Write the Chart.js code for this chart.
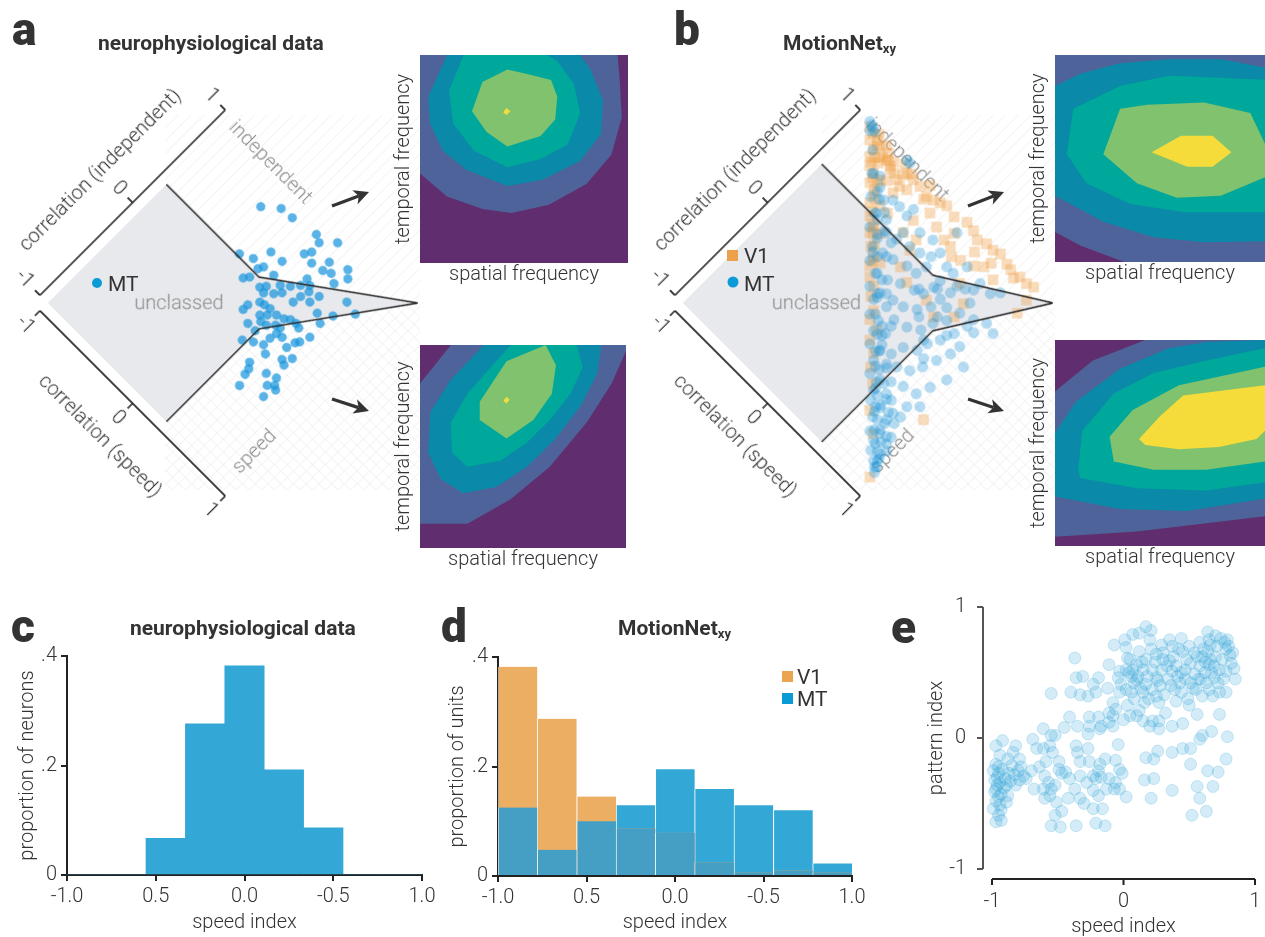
<!DOCTYPE html>
<html><head><meta charset="utf-8">
<script src="https://cdn.jsdelivr.net/npm/chart.js@4.4.1/dist/chart.umd.min.js"></script>
<style>
html,body{margin:0;padding:0;background:#fff;}
#page{position:relative;width:1265px;height:937px;overflow:hidden;font-family:Roboto,'Liberation Sans',sans-serif;}
canvas{position:absolute;}
svg{position:absolute;left:0;top:0;}
</style></head><body><div id="page">
<svg id="bg" width="1265" height="937">
<defs>
<pattern id="h1" width="9" height="9" patternUnits="userSpaceOnUse" patternTransform="rotate(45)"><line x1="0" y1="0" x2="0" y2="9" stroke="#ededed" stroke-width="1.2"/></pattern>
<pattern id="h2" width="9" height="9" patternUnits="userSpaceOnUse" patternTransform="rotate(-45)"><line x1="0" y1="0" x2="0" y2="9" stroke="#ededed" stroke-width="1.2"/></pattern>
</defs>
<rect x="165" y="115" width="255" height="375" fill="url(#h1)"/>
<rect x="165" y="303" width="255" height="187" fill="url(#h2)"/>
<rect x="822" y="115" width="233" height="375" fill="url(#h1)"/>
<rect x="822" y="303" width="233" height="187" fill="url(#h2)"/>
</svg>
<canvas id="cA" width="480" height="480" style="left:-7px;top:63px;transform:rotate(-45deg)"></canvas>
<canvas id="cB" width="480" height="480" style="left:628px;top:63px;transform:rotate(-45deg)"></canvas>
<canvas id="kA1" width="240" height="236" style="left:388px;top:55px"></canvas>
<canvas id="kA2" width="238" height="231" style="left:388px;top:345px"></canvas>
<canvas id="kB1" width="242" height="235" style="left:1023px;top:55px"></canvas>
<canvas id="kB2" width="242" height="234" style="left:1023px;top:340px"></canvas>
<canvas id="cC" width="440" height="337" style="left:0px;top:600px"></canvas>
<canvas id="cD" width="440" height="337" style="left:430px;top:600px"></canvas>
<canvas id="cE" width="385" height="349" style="left:880px;top:590px"></canvas>
<svg id="fg" width="1265" height="937" font-family="Roboto, 'Liberation Sans', sans-serif">
<g fill="#333" font-weight="900" font-size="46">
<text x="12" y="45">a</text><text x="674" y="45">b</text>
<text x="11" y="642">c</text><text x="441" y="642">d</text><text x="891" y="643">e</text>
</g>
<g fill="#333" font-weight="700" font-size="21">
<text x="98" y="50">neurophysiological data</text>
<text x="783" y="50">MotionNet<tspan font-size="13" dy="3">xy</tspan></text>
<text x="130" y="635">neurophysiological data</text>
<text x="618" y="635">MotionNet<tspan font-size="13" dy="3">xy</tspan></text>
</g>
<g fill="#333" font-weight="400" font-size="21">
<circle cx="97" cy="283" r="5" fill="#0a9ad6"/><text x="108" y="291">MT</text>
<rect x="727" y="250" width="11" height="11" fill="#eba049"/><text x="744" y="263">V1</text>
<circle cx="733" cy="282" r="5.5" fill="#0a9ad6"/><text x="744" y="291">MT</text>
<rect x="782" y="671" width="11" height="11" fill="#eba451"/><text x="797" y="684">V1</text>
<rect x="782" y="693" width="11" height="11" fill="#0a9ad6"/><text x="797" y="706">MT</text>
</g>
<g id="arrows"></g>
</svg>
</div>
<script>
// ---------------- DATA ----------------
const corrTicks = [-1, 0, 1];
const corrTickLabels = ['-1', '0', '1'];

// class boundaries (correlation independent / correlation speed)
const boundaryA_indep = [0.28, 0.28, 1, 0, -1];
const boundaryA_speed = [-1, 0, 1, 0.28, 0.28];
const boundaryB_indep = [0.5, 0.5, 1, 0.2, -1];
const boundaryB_speed = [-1, 0.2, 1, 0.5, 0.5];

// panel a: neurophysiological MT cells
const neuroMT_indep = [0.67,0.77,0.78,0.82,0.79,0.89,0.70,0.65,0.48,0.49,
0.35,0.30,0.32,0.36,0.74,0.64,0.66,0.69,0.80,0.75,
0.19,0.23,0.37,0.23,0.27,0.35,0.40,0.46,0.53,0.51,
0.47,0.65,0.22,0.27,0.32,0.40,0.50,0.62,0.42,0.33,
0.15,0.07,0.02,0.16,0.17,0.08,0.12,0.17,0.19,0.22,
0.23,0.40,0.47,0.60,0.05,-0.03,0.06,0.11,0.12,0.22,
0.36,0.23,0.15,0.12,-0.03,0.07,0.08,0.01,-0.15,-0.10,
-0.06,-0.10,0.05,0.02,-0.04,-0.06,-0.23,-0.27,-0.32,-0.41,
-0.20,-0.17,-0.26,-0.22,-0.24,-0.34];
const neuroMT_speed = [-0.37,-0.25,-0.14,0.08,0.14,0.24,0.15,0.12,-0.07,0.04,
-0.13,-0.23,-0.05,-0.03,0.30,0.21,0.31,0.37,0.44,0.49,
-0.08,-0.05,0.07,0.06,0.09,0.16,0.22,0.27,0.27,0.32,
0.35,0.44,0.11,0.17,0.21,0.33,0.43,0.61,0.41,0.32,
0.14,0.09,0.09,0.18,0.23,0.21,0.25,0.30,0.36,0.40,
0.45,0.51,0.61,0.72,0.25,0.19,0.30,0.35,0.39,0.49,
0.58,0.60,0.57,0.55,0.27,0.40,0.45,0.39,0.25,0.32,
0.39,0.45,0.53,0.62,0.57,0.61,0.41,0.44,0.45,0.48,
0.56,0.64,0.63,0.67,0.70,0.67];

// panel b: MotionNet units
const netV1_indep = [0.96,0.94,0.89,0.93,0.91,0.86,0.80,0.87,0.87,0.81,
0.75,0.86,0.84,0.73,0.73,0.76,0.66,0.82,0.80,0.82,
0.73,0.62,0.55,0.59,0.59,0.48,0.44,0.39,0.44,0.32,
0.28,0.21,0.28,0.15,0.12,0.05,-0.01,-0.08,-0.10,-0.19,
-0.24,-0.33,-0.41,-0.57,-0.68,-0.93,0.91,0.91,0.91,0.89,
0.91,0.93,0.95,0.86,0.82,0.78,0.75,0.75,0.73,0.84,
0.96,0.93,0.96,0.96,0.98,0.96,0.95,0.96,0.96,0.98,
0.87,0.75,0.77,0.82,0.60,0.51,0.39,0.33,0.28,-0.33,
0.69,0.57,0.60,0.51,0.37,0.32,
0.95,0.92,0.90,0.95,0.85,0.78,0.97,0.93,0.88,0.70,
0.90,0.82,0.70,0.65,0.60,0.52,0.45,0.40,0.88,0.84,
0.97,0.93,0.97,0.88,0.92,0.85,0.80,0.70,0.35,0.25];
const netV1_speed = [-0.94,-0.89,-0.87,-0.83,-0.78,-0.80,-0.78,-0.71,-0.67,-0.70,
-0.73,-0.62,-0.56,-0.67,-0.60,-0.56,-0.64,-0.51,-0.46,-0.40,
-0.46,-0.56,-0.53,-0.46,-0.38,-0.46,-0.38,-0.37,-0.31,-0.29,
-0.22,-0.19,-0.15,-0.13,-0.06,-0.02,0.07,0.10,0.19,0.21,
0.30,0.36,0.46,0.59,0.73,0.95,-0.49,-0.42,-0.35,-0.26,
-0.20,-0.15,-0.10,-0.26,-0.15,-0.04,0.07,0.14,0.27,0.09,
0.18,0.25,0.32,0.39,0.45,0.54,0.59,0.68,0.75,0.81,
0.84,0.86,0.37,0.43,0.39,0.52,0.54,0.30,0.43,0.93,
-0.20,-0.19,-0.08,-0.06,-0.02,0.10,
-0.75,-0.70,-0.62,-0.55,-0.72,-0.74,-0.85,-0.46,-0.50,-0.60,
-0.80,-0.75,-0.65,-0.58,-0.52,-0.47,-0.40,-0.35,-0.66,-0.60,
-0.30,0.00,0.10,0.45,0.65,0.30,0.55,0.20,-0.28,-0.20];
const netMT_indep = [0.99,0.98,0.97,0.94,0.96,0.98,0.98,0.73,0.69,0.59,
0.64,0.53,0.42,0.48,0.33,0.35,0.24,0.21,0.23,0.10,
0.12,0.05,0.08,-0.05,-0.04,-0.12,-0.07,-0.21,-0.19,-0.28,
-0.23,-0.37,-0.35,-0.44,-0.39,-0.51,-0.50,-0.59,-0.53,-0.68,
-0.64,-0.71,-0.66,-0.78,-0.75,-0.82,-0.84,-0.51,-0.46,-0.44,
0.69,0.69,0.68,0.75,0.57,0.50,0.53,0.55,0.59,0.37,
0.41,0.42,0.51,0.28,0.32,0.35,0.44,0.51,0.15,0.17,
0.23,0.32,0.41,0.50,0.57,0.05,0.08,0.14,0.24,0.33,
0.44,-0.05,0.01,0.10,0.19,0.30,0.41,-0.19,-0.14,-0.05,
0.06,0.17,0.26,-0.26,-0.23,-0.12,-0.35,-0.28,0.01,0.17,
0.86,0.66,0.73,0.64,0.71,0.71,0.77,0.48,0.53,0.51,
0.41,0.62,0.62,0.69,0.66,
0.85,0.75,0.62,0.50,0.40,0.30,0.20,0.08,-0.02,-0.12,
-0.22,-0.30,-0.42,-0.55,-0.62,-0.72,-0.80,-0.60,-0.40,-0.30,
0.00,0.15,0.55,0.45,-0.70,-0.88,-0.48,-0.15,
-0.30,-0.38,-0.45,-0.52,-0.58,-0.65,-0.75,-0.85,-0.20,-0.10,
-0.48,-0.56,-0.68,-0.78,-0.35,-0.25,-0.62,-0.42,-0.15,-0.05,
0.20,0.30,0.10,0.35,0.45,0.25,0.00,0.55,0.60,0.40,
0.30,0.42,0.52,0.65,0.72,0.35,0.20,0.10,0.58,0.48];
const netMT_speed = [-0.97,-0.94,-0.92,-0.92,-0.89,-0.56,-0.53,-0.67,-0.56,-0.56,
-0.47,-0.44,-0.40,-0.28,-0.28,-0.19,-0.22,-0.11,-0.02,-0.08,
0.01,0.01,0.12,0.07,0.15,0.18,0.26,0.23,0.32,0.34,
0.43,0.39,0.48,0.50,0.59,0.54,0.63,0.64,0.73,0.70,
0.77,0.77,0.86,0.81,0.88,0.88,0.93,0.79,0.73,0.79,
-0.42,-0.35,-0.26,-0.26,-0.19,-0.19,-0.08,0.01,0.09,-0.10,
0.01,0.10,0.12,0.07,0.18,0.25,0.27,0.27,0.12,0.21,
0.30,0.36,0.37,0.39,0.39,0.23,0.34,0.43,0.46,0.52,
0.55,0.43,0.52,0.54,0.59,0.63,0.66,0.50,0.59,0.64,
0.68,0.72,0.73,0.64,0.75,0.79,0.77,0.84,0.84,0.86,
0.10,0.12,0.34,0.50,0.50,0.61,0.66,0.66,0.75,0.84,
0.73,0.23,0.30,0.01,-0.10,
-0.80,-0.62,-0.50,-0.40,-0.30,-0.25,-0.12,0.02,0.10,0.22,
0.30,0.42,0.50,0.62,0.75,0.80,0.90,0.85,0.65,0.55,
0.25,0.05,-0.35,-0.20,0.90,0.95,0.70,0.40,
0.38,0.47,0.55,0.60,0.68,0.72,0.85,0.92,0.32,0.25,
0.62,0.74,0.82,0.90,0.52,0.45,0.82,0.62,0.30,0.20,
0.35,0.45,0.50,0.20,0.30,0.60,0.60,0.55,0.45,0.45,
-0.20,-0.32,-0.45,-0.55,-0.68,-0.15,-0.05,0.00,-0.40,-0.30];

// tuning-surface contour levels (spatial freq x, temporal freq y, normalised 0..1)
const contourColors = ['#602e6e','#4e6399','#0a8aa8','#00a89b','#80c26e','#f6dc3a'];
const contourATop = [
 [[0,1],[0,0.43],[0.13,0.32],[0.30,0.26],[0.44,0.24],[0.62,0.28],[0.80,0.38],[0.92,0.52],[0.97,0.70],[0.96,0.88],[0.95,1]],
 [[0.13,1],[0.04,0.80],[0.048,0.67],[0.11,0.54],[0.22,0.45],[0.42,0.37],[0.59,0.40],[0.77,0.49],[0.87,0.62],[0.88,0.78],[0.82,0.93],[0.77,1]],
 [[0.21,1],[0.14,0.83],[0.16,0.67],[0.26,0.54],[0.42,0.46],[0.58,0.50],[0.71,0.57],[0.77,0.72],[0.74,0.86],[0.66,0.97],[0.61,1]],
 [[0.42,0.93],[0.30,0.87],[0.25,0.73],[0.32,0.63],[0.42,0.56],[0.58,0.61],[0.65,0.69],[0.66,0.80],[0.63,0.88],[0.51,0.91]],
 [[0.40,0.725],[0.415,0.745],[0.435,0.73],[0.415,0.712]]
];
const contourABottom = [
 [[0.15,1],[1,1],[1,0.97],[0.93,0.81],[0.81,0.62],[0.63,0.40],[0.44,0.24],[0.23,0.12],[0,0.12],[0,0.81]],
 [[0.31,1],[0.88,1],[0.86,0.86],[0.78,0.70],[0.65,0.53],[0.52,0.40],[0.37,0.30],[0.21,0.27],[0.10,0.34],[0.04,0.47],[0.05,0.67],[0.15,0.83]],
 [[0.44,1],[0.76,1],[0.79,0.89],[0.73,0.76],[0.63,0.63],[0.52,0.52],[0.39,0.43],[0.23,0.40],[0.155,0.47],[0.15,0.62],[0.23,0.76],[0.325,0.87]],
 [[0.61,1],[0.66,0.90],[0.64,0.76],[0.55,0.63],[0.42,0.54],[0.29,0.63],[0.29,0.72],[0.42,0.92]],
 [[0.405,0.725],[0.42,0.745],[0.435,0.73],[0.42,0.712]]
];
const contourBTop = [
 [[0,0.145],[0.12,0.08],[0.33,0],[1,0],[1,1],[0,1]],
 [[0,0.85],[0.12,0.91],[0.31,0.96],[0.54,0.98],[0.79,0.98],[1,0.94],[1,0.10],[0.71,0.095],[0.47,0.12],[0.23,0.195],[0,0.32]],
 [[0.087,0.74],[0.056,0.52],[0.15,0.38],[0.36,0.28],[0.62,0.24],[1,0.24],[1,0.88],[0.78,0.89],[0.54,0.90],[0.31,0.85]],
 [[0.31,0.74],[0.23,0.52],[0.39,0.38],[0.58,0.31],[0.79,0.32],[1,0.41],[1,0.57],[0.93,0.72],[0.71,0.77],[0.44,0.76]],
 [[0.46,0.53],[0.60,0.61],[0.75,0.61],[0.84,0.53],[0.75,0.46],[0.63,0.46]]
];
const contourBBottom = [
 [[0,0.75],[0.18,0.90],[0.43,1],[1,1],[1,0.145],[0.39,0.07],[0,0.045]],
 [[0,0.55],[0.10,0.70],[0.31,0.86],[0.54,0.96],[0.72,0.99],[1,1],[1,0.23],[0.63,0.17],[0.31,0.18],[0,0.24]],
 [[0.11,0.37],[0.13,0.56],[0.28,0.74],[0.47,0.84],[0.72,0.90],[1,0.96],[1,0.31],[0.72,0.27],[0.39,0.28],[0.12,0.33]],
 [[0.26,0.53],[0.37,0.66],[0.59,0.78],[1,0.87],[1,0.41],[0.72,0.37],[0.47,0.37],[0.28,0.41]],
 [[0.40,0.52],[0.50,0.63],[0.61,0.73],[1,0.78],[1,0.56],[0.96,0.52],[0.78,0.48],[0.59,0.47],[0.43,0.49]]
];

// panels c, d: speed index histograms
const speedBinCenters = [-0.889,-0.667,-0.444,-0.222,0,0.222,0.444,0.667,0.889];
const speedTickLabels = ['-1.0','0.5','0.0','-0.5','1.0'];
const propTickLabels = ['0','.2','.4'];
const neuroProp = [0,0,0.067,0.276,0.382,0.192,0.086,0,0];
const v1Prop = [0.382,0.287,0.145,0.087,0.079,0.025,0.007,0.010,0.007];
const mtProp = [0.125,0.048,0.100,0.129,0.195,0.159,0.129,0.120,0.023];

// panel e: speed index vs pattern index
const eSpeed = [-0.92,-0.97,-0.94,-0.97,-0.99,-0.95,-0.98,-0.94,-0.97,-0.98,
-0.93,-0.97,-0.99,-0.94,-0.95,-0.97,-0.93,-0.89,-0.88,-0.89,
-0.90,-0.87,-0.85,-0.88,-0.84,-0.82,-0.79,-0.78,-0.76,-0.79,
-0.82,-0.74,-0.70,-0.69,-0.66,-0.64,-0.68,-0.61,-0.61,-0.55,
-0.52,-0.56,-0.54,-0.59,-0.60,-0.57,-0.61,-0.55,-0.52,-0.56,
-0.60,-0.51,-0.52,-0.47,-0.55,-0.48,-0.49,-0.47,-0.44,-0.49,
-0.45,-0.41,-0.41,-0.42,-0.37,-0.36,-0.35,-0.33,-0.33,-0.33,
-0.30,-0.36,-0.37,-0.36,-0.31,-0.40,-0.33,-0.55,-0.35,-0.27,
-0.26,-0.26,-0.27,-0.21,-0.19,-0.23,-0.27,-0.26,-0.23,-0.28,
-0.21,-0.18,-0.19,-0.14,-0.17,-0.23,-0.19,-0.23,-0.16,-0.21,
-0.14,-0.13,-0.11,-0.19,-0.18,-0.17,-0.12,-0.11,-0.11,-0.08,
-0.08,-0.04,-0.06,-0.03,-0.01,-0.06,-0.07,-0.03,0.02,-0.11,
-0.07,-0.08,-0.06,
0.01,0.02,0.03,0.02,-0.03,-0.04,-0.02,-0.03,0.02,0.06,
0.07,0.10,0.11,0.06,0.08,0.03,0.00,0.05,0.10,0.15,
0.12,0.16,0.15,0.17,0.22,0.25,0.27,0.20,0.27,0.32,
0.15,0.17,0.22,0.25,0.29,0.30,0.25,0.21,0.12,0.17,
0.21,0.20,0.12,0.07,0.29,0.35,0.37,0.44,0.45,0.35,
0.37,0.34,0.41,0.43,0.39,0.44,0.49,0.50,0.56,0.47,
0.51,0.54,0.58,0.60,0.58,0.62,0.59,0.65,0.64,0.64,
0.65,0.70,0.74,0.79,0.78,0.81,0.82,0.78,0.73,0.69,
0.72,0.68,0.60,0.65,0.78,0.85,0.70,0.66,0.55,0.51,
0.54,
0.27,0.22,0.17,0.23,0.26,0.16,0.23,0.21,0.37,0.37,
0.45,0.51,0.51,0.58,0.60,0.67,0.79,0.56,0.58,0.52,
0.63,0.68,0.72,0.78,0.64,0.73,0.45,0.37,
0.05,0.08,0.13,0.18,0.24,0.28,0.31,0.33,0.38,0.40,
0.42,0.47,0.50,0.53,0.56,0.61,0.63,0.67,0.71,0.75,
0.76,0.80,0.83,0.84,0.73,0.62,0.48,0.44,0.36,0.26,
0.19,0.10,0.04,0.30,0.57,0.69,0.77,0.66,0.40,0.14,
-0.96,-0.95,-0.96,-0.92,-0.91,-0.95,-0.93,-0.86,-0.83,-0.80];
const ePattern = [-0.02,-0.06,-0.13,-0.20,-0.25,-0.27,-0.32,-0.34,-0.39,-0.41,
-0.43,-0.48,-0.54,-0.51,-0.59,-0.64,-0.63,-0.49,-0.44,-0.36,
-0.31,-0.27,-0.21,-0.16,-0.11,-0.06,-0.16,-0.22,-0.29,-0.32,
-0.36,-0.31,-0.25,-0.01,-0.08,-0.22,-0.39,-0.08,0.07,0.02,
0.02,-0.06,-0.11,-0.18,-0.29,-0.34,-0.39,-0.39,-0.36,-0.44,
-0.46,-0.49,-0.59,-0.56,-0.67,-0.68,-0.24,-0.27,-0.26,-0.18,
0.08,0.16,-0.31,-0.46,-0.39,-0.06,-0.11,-0.18,-0.29,-0.46,
-0.50,-0.67,0.61,0.46,0.47,0.35,0.33,0.34,0.09,0.03,
0.09,0.16,0.32,0.35,0.46,0.41,-0.08,-0.18,-0.29,-0.34,
-0.31,-0.20,-0.25,-0.16,-0.30,-0.40,-0.44,-0.54,-0.54,-0.65,
-0.67,-0.39,-0.31,0.16,0.07,0.09,0.38,0.19,0.12,0.17,
0.09,-0.05,-0.17,-0.24,-0.27,-0.34,-0.39,-0.39,-0.45,0.56,
0.71,0.27,0.22,
0.75,0.69,0.61,0.52,0.51,0.46,0.41,0.35,0.37,0.47,
0.52,0.56,0.47,0.35,0.30,0.25,0.14,0.17,0.17,0.13,
0.21,0.27,0.35,0.41,0.37,0.32,0.27,0.09,0.13,0.19,
0.52,0.60,0.52,0.46,0.52,0.60,0.64,0.68,0.66,0.85,
0.82,0.75,0.80,0.79,0.71,0.75,0.70,0.76,0.66,0.59,
0.51,0.45,0.47,0.42,0.37,0.35,0.30,0.25,0.18,0.52,
0.57,0.65,0.73,0.62,0.55,0.50,0.45,0.56,0.66,0.81,
0.75,0.78,0.76,0.75,0.68,0.63,0.57,0.51,0.52,0.46,
0.42,0.32,0.32,0.37,0.35,0.45,0.62,0.60,0.37,0.42,
0.49,
0.07,0.13,-0.15,-0.16,-0.10,-0.32,-0.31,-0.46,-0.11,-0.40,
-0.08,-0.08,-0.20,-0.01,0.02,0.05,0.01,-0.37,-0.46,-0.59,
-0.56,-0.37,-0.26,-0.16,-0.25,0.18,0.11,0.09,
0.60,0.42,0.38,0.47,0.58,0.40,0.33,0.55,0.62,0.55,
0.68,0.45,0.70,0.38,0.62,0.68,0.42,0.50,0.70,0.60,
0.45,0.70,0.65,0.53,0.35,0.58,0.60,0.50,0.40,0.44,
0.30,0.44,0.50,0.65,0.45,0.55,0.73,0.71,0.28,0.58,
-0.36,-0.45,-0.30,-0.24,-0.38,-0.22,-0.55,-0.33,-0.28,-0.25];

// ---------------- CHARTS ----------------
Chart.defaults.font.family = "Roboto, 'Liberation Sans', sans-serif";
Chart.defaults.font.size = 20;
Chart.defaults.font.weight = 300;
Chart.defaults.color = '#333';
const FONT = "300 20px Roboto, 'Liberation Sans', sans-serif";
const pts = (xs, ys) => xs.map((v, k) => ({x: v, y: ys[k]}));
const baseOpts = {responsive: false, animation: false, events: [], devicePixelRatio: 1};

const diamondPlugin = {
  id: 'diamond',
  afterDatasetDraw(chart, args, o) {
    if (args.index !== o.regionIndex) return;
    const {ctx, scales: {x, y}} = chart;
    ctx.save();
    ctx.font = FONT; ctx.fillStyle = '#8c8c8c'; ctx.textAlign = 'center'; ctx.textBaseline = 'middle';
    o.regions.forEach(r => {
      ctx.save();
      ctx.translate(x.getPixelForValue(r.i), y.getPixelForValue(r.s));
      ctx.rotate(r.rot * Math.PI / 180);
      ctx.fillText(r.text, 0, 0);
      ctx.restore();
    });
    ctx.restore();
  },
  afterDraw(chart) {
    const {ctx, chartArea: a, scales: {x, y}} = chart;
    const gap = 11, tl = 7;
    const ay = a.top - gap, ax = a.left - gap;
    ctx.save();
    ctx.strokeStyle = '#1f1f1f'; ctx.lineWidth = 1.7;
    ctx.beginPath();
    ctx.moveTo(x.getPixelForValue(-1), ay); ctx.lineTo(x.getPixelForValue(1), ay);
    corrTicks.forEach(t => { const p = x.getPixelForValue(t); ctx.moveTo(p, ay); ctx.lineTo(p, ay - tl); });
    ctx.moveTo(ax, y.getPixelForValue(-1)); ctx.lineTo(ax, y.getPixelForValue(1));
    corrTicks.forEach(t => { const p = y.getPixelForValue(t); ctx.moveTo(ax, p); ctx.lineTo(ax - tl, p); });
    ctx.stroke();
    ctx.fillStyle = '#333'; ctx.font = FONT;
    corrTicks.forEach((t, k) => {
      ctx.save(); ctx.translate(x.getPixelForValue(t), ay - 14); ctx.rotate(Math.PI / 2);
      ctx.textAlign = 'right'; ctx.textBaseline = 'middle'; ctx.fillText(corrTickLabels[k], 0, 0); ctx.restore();
      ctx.save(); ctx.translate(ax - 11, y.getPixelForValue(t)); ctx.rotate(Math.PI / 2);
      ctx.textAlign = 'center'; ctx.textBaseline = 'top'; ctx.fillText(corrTickLabels[k], 0, 0); ctx.restore();
    });
    ctx.textAlign = 'center'; ctx.textBaseline = 'middle';
    ctx.fillText('correlation (independent)', (a.left + a.right) / 2, a.top - 56);
    ctx.save(); ctx.translate(a.left - 58, (a.top + a.bottom) / 2); ctx.rotate(Math.PI / 2);
    ctx.fillText('correlation (speed)', 0, 0); ctx.restore();
    ctx.restore();
  }
};

function diamondChart(id, bIndep, bSpeed, pointSets, regions) {
  const boundary = pts(bIndep, bSpeed);
  const region = [{x: -1, y: -1}, ...boundary, {x: -1, y: -1}];
  const datasets = [
    {data: boundary, showLine: true, borderColor: '#2b2b2b', borderWidth: 1.6, pointRadius: 0, fill: false},
    ...pointSets,
    {data: region, showLine: true, borderWidth: 0, borderColor: 'rgba(0,0,0,0)', pointRadius: 0, fill: 'shape', backgroundColor: '#e8e9ed'}
  ];
  return new Chart(document.getElementById(id), {
    type: 'scatter',
    data: {datasets},
    options: {...baseOpts, layout: {padding: 109},
      scales: {x: {type: 'linear', min: -1, max: 1, display: false},
               y: {type: 'linear', min: -1, max: 1, reverse: true, display: false}},
      plugins: {legend: {display: false}, tooltip: {enabled: false},
        diamond: {regionIndex: datasets.length - 1, regions}}},
    plugins: [diamondPlugin]
  });
}

diamondChart('cA', boundaryA_indep, boundaryA_speed, [
  {data: pts(neuroMT_indep, neuroMT_speed), pointRadius: 4.6, pointBackgroundColor: 'rgba(25,150,220,0.72)', backgroundColor: 'rgba(25,150,220,0.72)', pointBorderWidth: 0, clip: false}
], [
  {text: 'independent', i: 0.957, s: -0.557, rot: 90},
  {text: 'speed', i: -0.686, s: 0.924, rot: 0},
  {text: 'unclassed', i: -0.297, s: -0.286, rot: 45}
]);

diamondChart('cB', boundaryB_indep, boundaryB_speed, [
  {data: pts(netMT_indep, netMT_speed), pointRadius: 5.5, pointBackgroundColor: 'rgba(30,150,215,0.33)', backgroundColor: 'rgba(30,150,215,0.33)', pointBorderWidth: 0, clip: false},
  {data: pts(netV1_indep, netV1_speed), pointStyle: 'rect', pointRotation: 45, pointRadius: 7.5, pointBackgroundColor: 'rgba(238,163,75,0.38)', backgroundColor: 'rgba(238,163,75,0.38)', pointBorderWidth: 0, clip: false}
], [
  {text: 'independent', i: 0.978, s: -0.56, rot: 90},
  {text: 'speed', i: -0.667, s: 0.94, rot: 0},
  {text: 'unclassed', i: -0.283, s: -0.272, rot: 45}
]);

const areaBg = {
  id: 'areaBg',
  beforeDatasetsDraw(chart, args, o) {
    const {ctx, chartArea: a} = chart;
    ctx.save(); ctx.fillStyle = o.color; ctx.fillRect(a.left, a.top, a.right - a.left, a.bottom - a.top); ctx.restore();
  }
};

function contourChart(id, levels) {
  const datasets = levels.map((poly, k) => ({
    data: [...poly, poly[0]].map(p => ({x: p[0], y: p[1]})),
    showLine: true, fill: 'shape', backgroundColor: contourColors[k + 1],
    borderWidth: 0, borderColor: 'rgba(0,0,0,0)', pointRadius: 0, order: levels.length - k
  }));
  return new Chart(document.getElementById(id), {
    type: 'scatter', data: {datasets},
    options: {...baseOpts, layout: {padding: 0},
      scales: {
        x: {type: 'linear', min: 0, max: 1, ticks: {display: false, padding: 0}, grid: {display: false, drawTicks: false}, border: {display: false},
            title: {display: true, text: 'spatial frequency', padding: {top: 0, bottom: 4}}, afterFit: s => { s.height = 28; }},
        y: {type: 'linear', min: 0, max: 1, ticks: {display: false, padding: 0}, grid: {display: false, drawTicks: false}, border: {display: false},
            title: {display: true, text: 'temporal frequency', padding: {top: 4, bottom: 0}}, afterFit: s => { s.width = 32; }}
      },
      plugins: {legend: {display: false}, tooltip: {enabled: false}, areaBg: {color: contourColors[0]}}},
    plugins: [areaBg]
  });
}
contourChart('kA1', contourATop);
contourChart('kA2', contourABottom);
contourChart('kB1', contourBTop);
contourChart('kB2', contourBBottom);

function histScales(yTitle, yWidth, xHeight) {
  const grid = {display: true, drawOnChartArea: false, drawTicks: true, tickLength: 6, color: '#222', lineWidth: 2};
  const border = {display: true, color: '#222', width: 2};
  return {
    x: {type: 'linear', min: -1, max: 1, offset: false,
        ticks: {stepSize: 0.5, padding: 4, maxRotation: 0, autoSkip: false, callback: (v, i) => speedTickLabels[i]},
        grid: {...grid, offset: false}, border,
        title: {display: true, text: 'speed index', padding: {top: 0, bottom: 2}}, afterFit: s => { s.height = xHeight; }},
    y: {type: 'linear', min: 0, max: 0.4,
        ticks: {stepSize: 0.2, padding: 4, callback: (v, i) => propTickLabels[i]},
        grid, border,
        title: {display: true, text: yTitle, padding: {top: 4, bottom: 0}}, afterFit: s => { s.width = yWidth; }}
  };
}

new Chart(document.getElementById('cC'), {
  type: 'bar',
  data: {datasets: [{data: pts(speedBinCenters, neuroProp), backgroundColor: '#33a8d6', barPercentage: 1, categoryPercentage: 1, borderWidth: 0}]},
  options: {...baseOpts, layout: {padding: {left: 12, top: 56, right: 18, bottom: 0}},
    scales: histScales('proportion of neurons', 55, 62),
    plugins: {legend: {display: false}, tooltip: {enabled: false}}}
});

const overlapProp = v1Prop.map((v, k) => Math.min(v, mtProp[k]));
const sep = {left: 1, right: 0, top: 0, bottom: 0};
new Chart(document.getElementById('cD'), {
  type: 'bar',
  data: {datasets: [
    {label: 'overlap', data: pts(speedBinCenters, overlapProp), backgroundColor: '#459fc5', borderColor: 'rgba(255,255,255,0.5)', borderWidth: sep, barPercentage: 1, categoryPercentage: 1, grouped: false},
    {label: 'V1', data: pts(speedBinCenters, v1Prop), backgroundColor: '#ebae63', borderColor: 'rgba(255,255,255,0.6)', borderWidth: sep, barPercentage: 1, categoryPercentage: 1, grouped: false},
    {label: 'MT', data: pts(speedBinCenters, mtProp), backgroundColor: '#33a8d6', borderColor: 'rgba(255,255,255,0.6)', borderWidth: sep, barPercentage: 1, categoryPercentage: 1, grouped: false}
  ]},
  options: {...baseOpts, layout: {padding: {left: 12, top: 57, right: 18, bottom: 0}},
    scales: histScales('proportion of units', 56, 61),
    plugins: {legend: {display: false}, tooltip: {enabled: false}}}
});

const spines = {
  id: 'spines',
  afterDraw(chart) {
    const {ctx, chartArea: a, scales: {x, y}} = chart;
    const sx = a.left - 9, sy = a.bottom + 10, tl = 6;
    ctx.save(); ctx.lineWidth = 2;
    ctx.strokeStyle = '#555';
    ctx.beginPath();
    ctx.moveTo(sx, y.getPixelForValue(1)); ctx.lineTo(sx, y.getPixelForValue(-1));
    y.ticks.forEach(t => { const p = y.getPixelForValue(t.value); ctx.moveTo(sx, p); ctx.lineTo(sx - tl, p); });
    ctx.stroke();
    ctx.strokeStyle = '#222';
    ctx.beginPath();
    ctx.moveTo(x.getPixelForValue(-1), sy); ctx.lineTo(x.getPixelForValue(1), sy);
    x.ticks.forEach(t => { const p = x.getPixelForValue(t.value); ctx.moveTo(p, sy); ctx.lineTo(p, sy + tl); });
    ctx.stroke();
    ctx.restore();
  }
};
const hiddenTicks = len => ({display: true, drawOnChartArea: false, drawTicks: true, tickLength: len, color: 'rgba(0,0,0,0)'});
new Chart(document.getElementById('cE'), {
  type: 'scatter',
  data: {datasets: [{data: pts(eSpeed, ePattern), pointRadius: 6, pointBackgroundColor: 'rgba(40,160,215,0.2)', pointBorderColor: 'rgba(40,160,215,0.22)', pointBorderWidth: 1, clip: false}]},
  options: {...baseOpts, layout: {padding: {left: 41, top: 17, right: 10, bottom: 0}},
    scales: {
      x: {type: 'linear', min: -1, max: 1, ticks: {stepSize: 1, padding: 2}, grid: hiddenTicks(19), border: {display: false},
          title: {display: true, text: 'speed index', padding: {top: 0, bottom: 0}}, afterFit: s => { s.height = 70; }},
      y: {type: 'linear', min: -1, max: 1, ticks: {stepSize: 1, padding: 2}, grid: hiddenTicks(24), border: {display: false},
          title: {display: true, text: 'pattern index', padding: {top: 4, bottom: 0}}, afterFit: s => { s.width = 71; }}
    },
    plugins: {legend: {display: false}, tooltip: {enabled: false}}},
  plugins: [spines]
});

// arrows pointing from classes to example tuning surfaces
const NS = 'http://www.w3.org/2000/svg';
const arrowG = document.getElementById('arrows');
function arrow(x1, y1, x2, y2) {
  const dx = x2 - x1, dy = y2 - y1, L = Math.hypot(dx, dy), ux = dx / L, uy = dy / L, nx = -uy, ny = ux;
  const hl = 15, hw = 7.5, bx = x2 - ux * hl, by = y2 - uy * hl;
  const ln = document.createElementNS(NS, 'line');
  ln.setAttribute('x1', x1); ln.setAttribute('y1', y1); ln.setAttribute('x2', bx + ux * 4); ln.setAttribute('y2', by + uy * 4);
  ln.setAttribute('stroke', '#333'); ln.setAttribute('stroke-width', '3.2');
  arrowG.appendChild(ln);
  const pg = document.createElementNS(NS, 'polygon');
  pg.setAttribute('points', [[x2, y2], [bx + nx * hw, by + ny * hw], [bx + ux * 4, by + uy * 4], [bx - nx * hw, by - ny * hw]].map(p => p.join(',')).join(' '));
  pg.setAttribute('fill', '#333');
  arrowG.appendChild(pg);
}
arrow(332, 206, 369, 192); arrow(332, 399, 369, 411);
arrow(968, 206, 1004, 192); arrow(968, 399, 1004, 411);
</script>
</body></html>
